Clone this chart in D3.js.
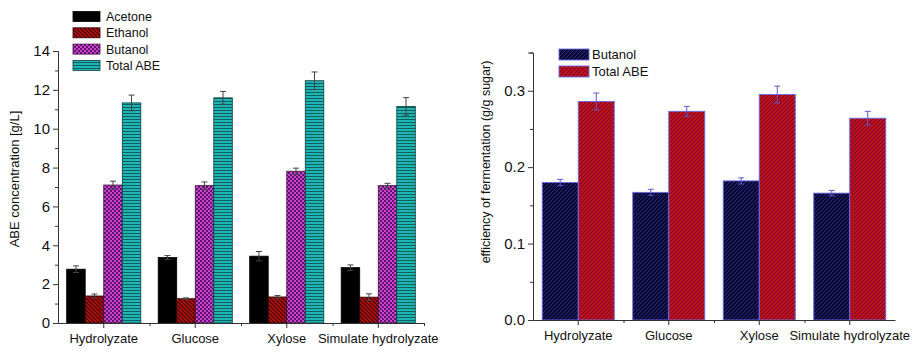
<!DOCTYPE html>
<html><head><meta charset="utf-8">
<script src="https://cdn.jsdelivr.net/npm/d3@7/dist/d3.min.js"></script>
<style>body{margin:0;background:#fff}svg{display:block;font-family:"Liberation Sans",Arial,sans-serif}</style>
</head><body><svg id="c" width="918" height="356"></svg>
<script>
// ---- data ----
const categories = ["Hydrolyzate", "Glucose", "Xylose", "Simulate hydrolyzate"];
const abeSeries = ["Acetone", "Ethanol", "Butanol", "Total ABE"];
const acetone = [2.77, 3.37, 3.44, 2.85];
const acetoneErr = [0.17, 0.10, 0.24, 0.14];
const ethanol = [1.39, 1.25, 1.34, 1.33];
const ethanolErr = [0.10, 0.04, 0.07, 0.17];
const butanol = [7.10, 7.07, 7.81, 7.07];
const butanolErr = [0.20, 0.19, 0.16, 0.12];
const totalABE = [11.33, 11.59, 12.47, 11.15];
const totalABEErr = [0.40, 0.33, 0.45, 0.45];
const leftTicks = [0, 2, 4, 6, 8, 10, 12, 14];

const yieldSeries = ["Butanol", "Total ABE"];
const butanolYield = [0.180, 0.167, 0.182, 0.166];
const butanolYieldErr = [0.004, 0.004, 0.004, 0.0035];
const totalYield = [0.286, 0.273, 0.295, 0.264];
const totalYieldErr = [0.011, 0.0065, 0.011, 0.009];
const rightTicks = [0.0, 0.1, 0.2, 0.3];

const svg = d3.select("#c");
const defs = svg.append("defs");
const FONT = '"Liberation Sans",Arial,sans-serif';

// ---- patterns ----
function pat(id, w, h, bg, draw) {
  const p = defs.append("pattern").attr("id", id).attr("patternUnits", "userSpaceOnUse")
    .attr("width", w).attr("height", h);
  p.append("rect").attr("width", w).attr("height", h).attr("fill", bg);
  draw(p);
}
pat("pAcetone", 4, 4, "#000", () => {});
pat("pEthanol", 4, 4, "#b3100f", p => {
  p.append("path").attr("d", "M-1,-1 L5,5 M-1,3 L1,5 M3,-1 L5,1").attr("stroke", "#3a0505").attr("stroke-width", 1.1);
});
pat("pButanol", 4, 4, "#d23fd6", p => {
  p.append("rect").attr("x", 0).attr("y", 0).attr("width", 2).attr("height", 2).attr("fill", "#5a1a66");
  p.append("rect").attr("x", 2).attr("y", 2).attr("width", 2).attr("height", 2).attr("fill", "#5a1a66");
});
pat("pTotal", 4, 3, "#1fb5b2", p => {
  p.append("rect").attr("y", 2).attr("width", 4).attr("height", 1).attr("fill", "#0d5f5f");
});
pat("pBut2", 4, 4, "#0a0a30", p => {
  p.append("path").attr("d", "M-1,5 L5,-1 M-1,1 L1,-1 M3,5 L5,3").attr("stroke", "#27278a").attr("stroke-width", 1);
});
pat("pTot2", 4, 4, "#c0101c", p => {
  p.append("path").attr("d", "M-1,5 L5,-1 M-1,1 L1,-1 M3,5 L5,3").attr("stroke", "#6a0a30").attr("stroke-width", 1);
});

const axisColor = "#333";

function styleAxis(g, fs) {
  g.attr("font-family", FONT).attr("font-size", fs);
  g.select(".domain").attr("stroke", axisColor);
  g.selectAll(".tick line").attr("stroke", axisColor);
  g.selectAll(".tick text").attr("fill", "#111");
  return g;
}

function errBar(g, cx, yTop, yBot, color) {
  const eg = g.append("g").attr("stroke", color).attr("stroke-width", 1);
  eg.append("line").attr("x1", cx).attr("x2", cx).attr("y1", yTop).attr("y2", yBot);
  eg.append("line").attr("x1", cx - 3).attr("x2", cx + 3).attr("y1", yTop).attr("y2", yTop);
  eg.append("line").attr("x1", cx - 3).attr("x2", cx + 3).attr("y1", yBot).attr("y2", yBot);
}

// ================= LEFT CHART =================
const L = {x0: 58, x1: 424, y0: 323, y1: 51};
const lx0 = d3.scaleBand().domain(categories).range([L.x0, L.x1]).padding(0);
const lbw = lx0.bandwidth();
const lx1 = d3.scaleBand().domain(abeSeries).range([lbw * 0.095, lbw * 0.905]).padding(0);
const ly = d3.scaleLinear().domain([0, 14]).range([L.y0, L.y1]);

const leftVals = [acetone, ethanol, butanol, totalABE];
const leftErrs = [acetoneErr, ethanolErr, butanolErr, totalABEErr];
const leftFills = ["url(#pAcetone)", "url(#pEthanol)", "url(#pButanol)", "url(#pTotal)"];
const leftStroke = ["#000", "#2a0000", "#3a103a", "#0e3e3e"];

const lg = svg.append("g");
abeSeries.forEach((s, si) => {
  categories.forEach((c, ci) => {
    const v = leftVals[si][ci], e = leftErrs[si][ci];
    const x = lx0(c) + lx1(s), w = lx1.bandwidth();
    lg.append("rect").attr("x", x).attr("y", ly(v)).attr("width", w).attr("height", ly(0) - ly(v))
      .attr("fill", leftFills[si]).attr("stroke", leftStroke[si]).attr("stroke-width", 0.8);
    errBar(lg, x + w / 2, ly(v + e), ly(v - e), "#444");
  });
});

styleAxis(svg.append("g").attr("transform", `translate(${L.x0},0)`)
  .call(d3.axisLeft(ly).tickValues(leftTicks).tickSize(5).tickPadding(3).tickFormat(d3.format("d"))), 15);
styleAxis(svg.append("g").attr("transform", `translate(${L.x0},0)`)
  .call(d3.axisLeft(ly).tickValues(d3.range(1, 14, 2)).tickSize(3).tickFormat("")), 10)
  .select(".domain").remove();
styleAxis(svg.append("g").attr("transform", `translate(0,${L.y0})`)
  .call(d3.axisBottom(lx0).tickSize(5).tickSizeOuter(0).tickPadding(6)), 13);
styleAxis(svg.append("g").attr("transform", `translate(0,${L.y0})`)
  .call(d3.axisBottom(d3.scaleLinear().domain([0, 4]).range([L.x0, L.x1])).tickValues([1, 2, 3, 4]).tickSize(3).tickFormat("")), 10)
  .select(".domain").remove();
svg.append("text").attr("transform", `translate(19,179) rotate(-90)`)
  .attr("text-anchor", "middle").attr("font-size", 13).attr("fill", "#111").text("ABE concentration [g/L]");

abeSeries.forEach((s, i) => {
  const y = 11.5 + i * 16.3;
  svg.append("rect").attr("x", 73).attr("y", y).attr("width", 27).attr("height", 10)
    .attr("fill", leftFills[i]).attr("stroke", leftStroke[i]).attr("stroke-width", 0.8);
  svg.append("text").attr("x", 106).attr("y", y + 9.5).attr("font-size", 12.5).attr("fill", "#111").text(s);
});

// ================= RIGHT CHART =================
const R = {x0: 533, x1: 895, y0: 320, y1: 52.5};
const rx0 = d3.scaleBand().domain(categories).range([R.x0, R.x1]).padding(0);
const rbw = rx0.bandwidth();
const rx1 = d3.scaleBand().domain(yieldSeries).range([rbw * 0.102, rbw * 0.898]).padding(0);
const ry = d3.scaleLinear().domain([0, 0.35]).range([R.y0, R.y1]);

const rightVals = [butanolYield, totalYield];
const rightErrs = [butanolYieldErr, totalYieldErr];
const rightFills = ["url(#pBut2)", "url(#pTot2)"];
const rg = svg.append("g");
yieldSeries.forEach((s, si) => {
  categories.forEach((c, ci) => {
    const v = rightVals[si][ci], e = rightErrs[si][ci];
    const x = rx0(c) + rx1(s), w = rx1.bandwidth();
    rg.append("rect").attr("x", x).attr("y", ry(v)).attr("width", w).attr("height", ry(0) - ry(v))
      .attr("fill", rightFills[si]).attr("stroke", "#6a6ae6").attr("stroke-width", 0.9);
    errBar(rg, x + w / 2, ry(v + e), ry(v - e), "#5a5ad0");
  });
});

styleAxis(svg.append("g").attr("transform", `translate(${R.x0},0)`)
  .call(d3.axisLeft(ry).tickValues(rightTicks).tickSize(5).tickPadding(3).tickFormat(d3.format(".1f"))), 15);
styleAxis(svg.append("g").attr("transform", `translate(${R.x0},0)`)
  .call(d3.axisLeft(ry).tickValues([0.05, 0.15, 0.25, 0.35]).tickSize(3).tickFormat("")), 10)
  .select(".domain").remove();
styleAxis(svg.append("g").attr("transform", `translate(0,${R.y0})`)
  .call(d3.axisBottom(rx0).tickSize(5).tickSizeOuter(0).tickPadding(6)), 13);
styleAxis(svg.append("g").attr("transform", `translate(0,${R.y0})`)
  .call(d3.axisBottom(d3.scaleLinear().domain([0, 4]).range([R.x0, R.x1])).tickValues([1, 2, 3]).tickSize(3).tickFormat("")), 10)
  .select(".domain").remove();
svg.append("text").attr("transform", `translate(490,162) rotate(-90)`)
  .attr("text-anchor", "middle").attr("font-size", 12.5).attr("fill", "#111").text("efficiency of fermentation (g/g sugar)");

yieldSeries.forEach((s, i) => {
  const y = 49 + i * 17;
  svg.append("rect").attr("x", 559).attr("y", y).attr("width", 30).attr("height", 11)
    .attr("fill", rightFills[i]).attr("stroke", "#6a6ae6").attr("stroke-width", 0.9);
  svg.append("text").attr("x", 592).attr("y", y + 10).attr("font-size", 13).attr("fill", "#111").text(s);
});
</script>
</body></html>
